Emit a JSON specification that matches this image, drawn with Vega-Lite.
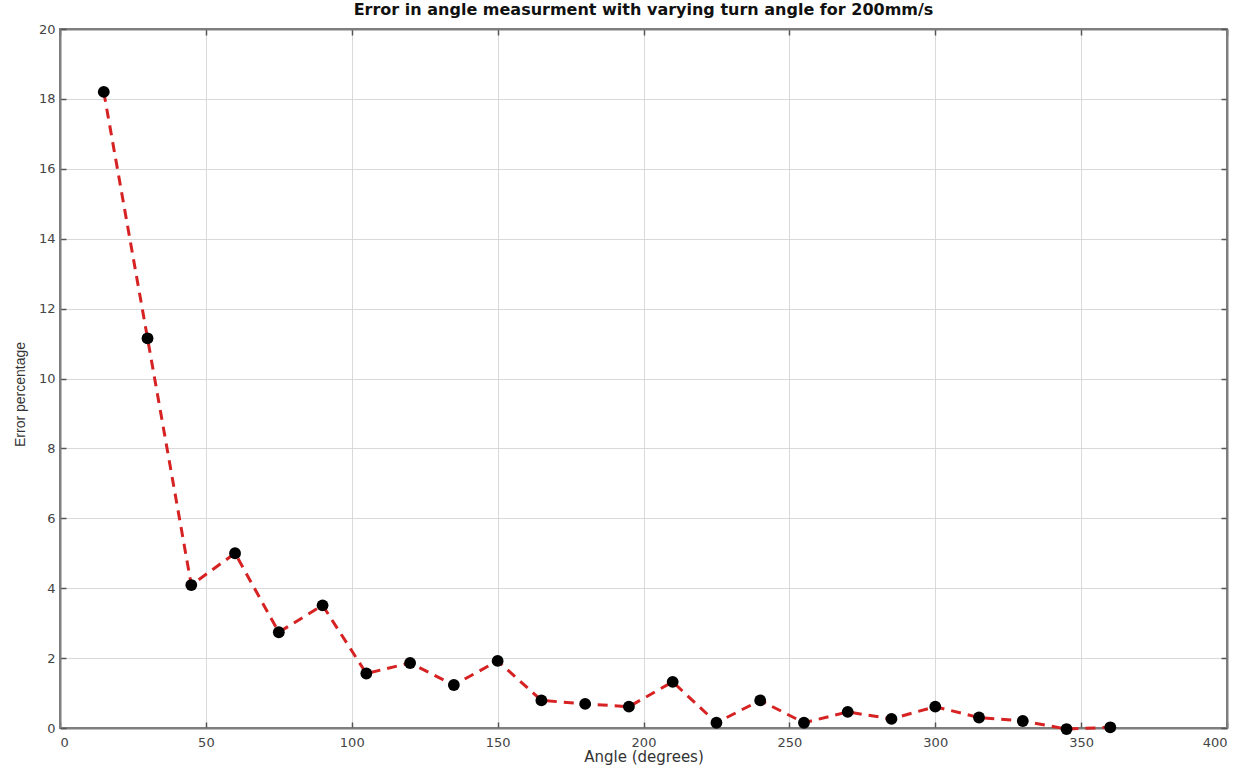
{
  "$schema": "https://vega.github.io/schema/vega-lite/v6.json",
  "width": 1167,
  "height": 699,
  "autosize": {"type": "none"},
  "padding": {"left": 60, "top": 29, "right": 15, "bottom": 41},
  "background": "white",
  "title": {
    "text": "Error in angle measurment with varying turn angle for 200mm/s",
    "font": "DejaVu Sans",
    "fontSize": 16,
    "fontWeight": "bold",
    "color": "#111111",
    "offset": 5
  },
  "config": {
    "view": {"stroke": "#7f7f7f", "strokeWidth": 2},
    "axis": {
      "labelFont": "DejaVu Sans",
      "labelFontSize": 13,
      "labelColor": "#444444",
      "titleFont": "DejaVu Sans",
      "titleFontSize": 15,
      "titleFontWeight": "normal",
      "titleColor": "#333333",
      "domainColor": "#7f7f7f",
      "domainWidth": 2,
      "tickColor": "#555555",
      "tickSize": -6,
      "tickWidth": 1.5,
      "gridColor": "#d9d9d9",
      "gridWidth": 1
    }
  },
  "data": {
    "values": [
      {"angle": 15, "error": 18.2},
      {"angle": 30, "error": 11.15},
      {"angle": 45, "error": 4.09},
      {"angle": 60, "error": 5.0},
      {"angle": 75, "error": 2.74},
      {"angle": 90, "error": 3.51},
      {"angle": 105, "error": 1.56},
      {"angle": 120, "error": 1.86},
      {"angle": 135, "error": 1.23},
      {"angle": 150, "error": 1.92},
      {"angle": 165, "error": 0.79},
      {"angle": 180, "error": 0.69},
      {"angle": 195, "error": 0.61},
      {"angle": 210, "error": 1.32},
      {"angle": 225, "error": 0.15},
      {"angle": 240, "error": 0.79},
      {"angle": 255, "error": 0.15},
      {"angle": 270, "error": 0.46},
      {"angle": 285, "error": 0.26},
      {"angle": 300, "error": 0.61},
      {"angle": 315, "error": 0.3},
      {"angle": 330, "error": 0.2},
      {"angle": 345, "error": -0.03},
      {"angle": 360, "error": 0.02}
    ]
  },
  "layer": [
    {
      "layer": [
        {
          "mark": {"type": "line", "color": "#d62222", "strokeWidth": 3, "strokeDash": [10, 7]},
          "encoding": {
            "x": {
              "field": "angle", "type": "quantitative",
              "scale": {"domain": [0, 400], "nice": false},
              "axis": {"values": [0, 50, 100, 150, 200, 250, 300, 350, 400], "title": "Angle (degrees)", "titlePadding": 0, "labelPadding": 14}
            },
            "y": {
              "field": "error", "type": "quantitative",
              "scale": {"domain": [0, 20], "nice": false},
              "axis": {"values": [0, 2, 4, 6, 8, 10, 12, 14, 16, 18, 20], "title": "Error percentage", "titleFont": "Liberation Sans", "titleFontSize": 14, "titlePadding": 11, "titleY": 365, "labelPadding": 11}
            }
          }
        },
        {
          "mark": {"type": "point", "filled": true, "shape": "circle", "size": 140, "color": "#000000", "opacity": 1},
          "encoding": {
            "x": {"field": "angle", "type": "quantitative"},
            "y": {"field": "error", "type": "quantitative"}
          }
        }
      ]
    },
    {
      "mark": {"type": "point", "opacity": 0},
      "encoding": {
        "x": {"field": "angle", "type": "quantitative",
          "axis": {"orient": "top", "values": [0, 50, 100, 150, 200, 250, 300, 350, 400], "labels": false, "grid": false, "title": null}},
        "y": {"field": "error", "type": "quantitative",
          "axis": {"orient": "right", "values": [0, 2, 4, 6, 8, 10, 12, 14, 16, 18, 20], "labels": false, "grid": false, "title": null}}
      }
    }
  ],
  "resolve": {"axis": {"x": "independent", "y": "independent"}}
}
